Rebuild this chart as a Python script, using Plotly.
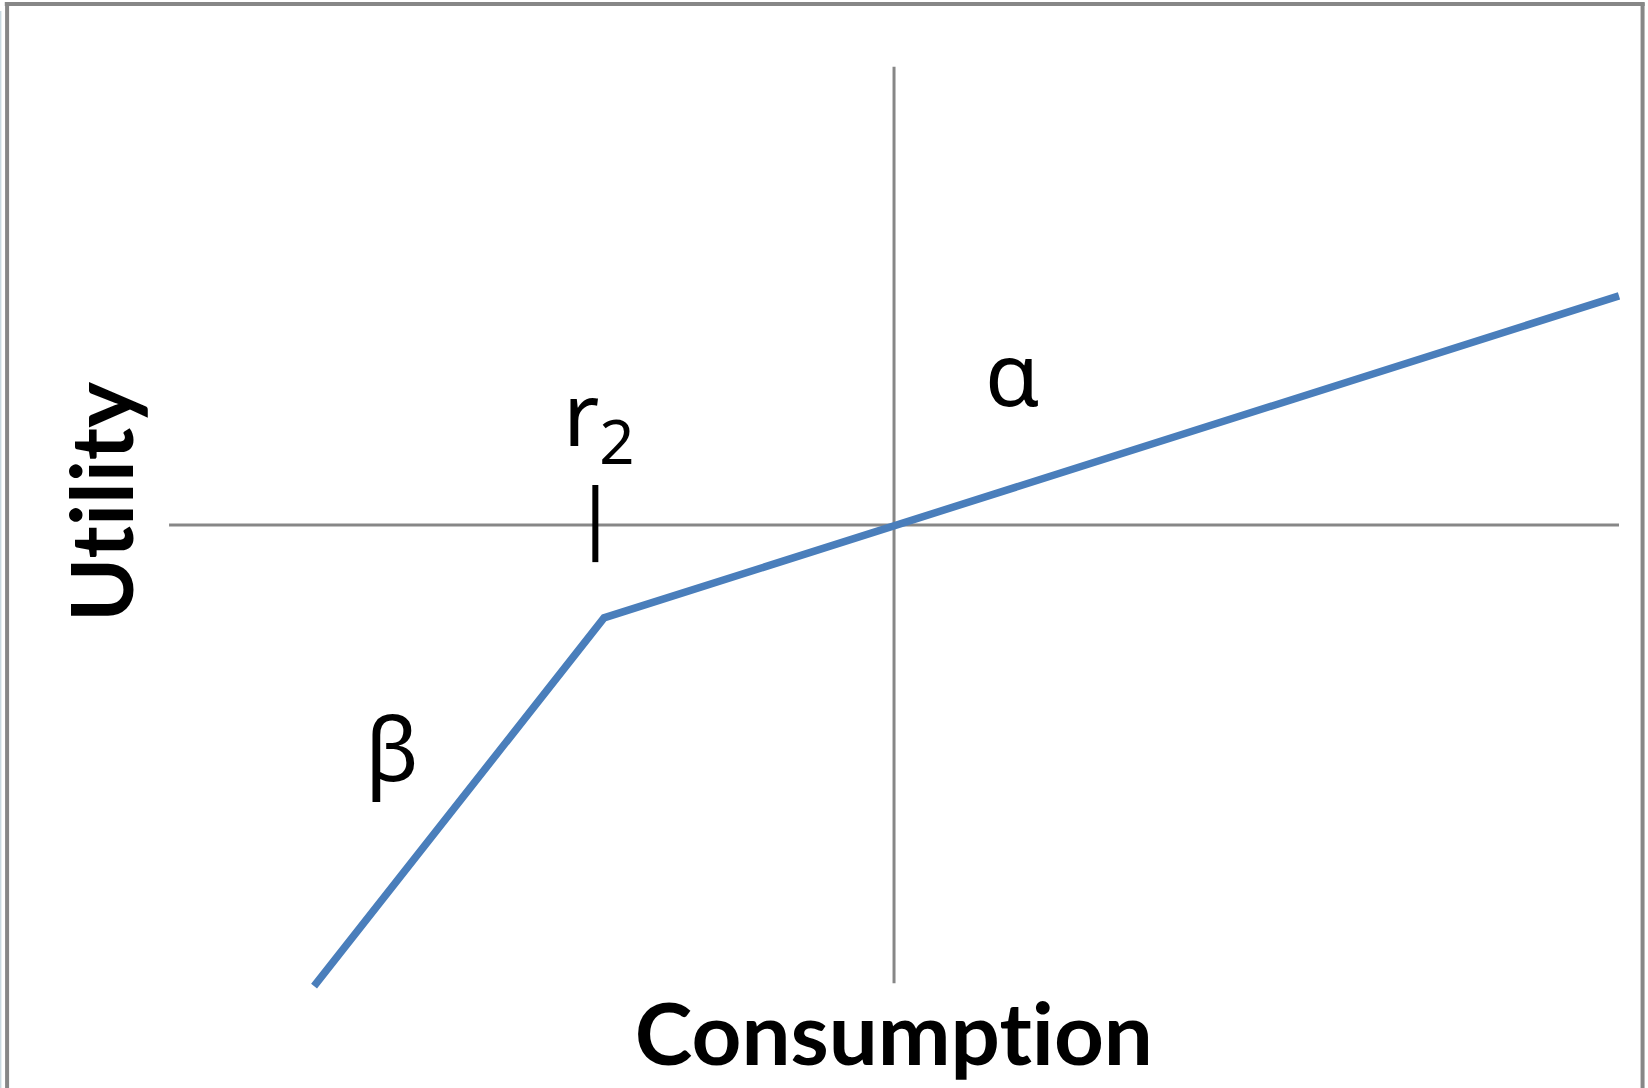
import plotly.graph_objects as go

# value function: consumption vs utility (kink at reference point r2)
consumption = [-2.0, -1.0, 2.5]
utility = [-1.59, -0.32, 0.79]

# the two axes drawn through the origin
h_axis_x = [-2.5, 2.5]
h_axis_y = [0, 0]
v_axis_x = [0, 0]
v_axis_y = [-1.58, 1.58]

# small tick marking r2
r2_tick_x = [-1.03, -1.03]
r2_tick_y = [-0.128, 0.138]

LINE_BLUE = "#4a7ebb"
AXIS_GRAY = "#878787"

fig = go.Figure()

fig.add_trace(go.Scatter(x=h_axis_x, y=h_axis_y, mode="lines",
                         line=dict(color=AXIS_GRAY, width=3), hoverinfo="skip"))
fig.add_trace(go.Scatter(x=v_axis_x, y=v_axis_y, mode="lines",
                         line=dict(color=AXIS_GRAY, width=3), hoverinfo="skip"))
fig.add_trace(go.Scatter(x=r2_tick_x, y=r2_tick_y, mode="lines",
                         line=dict(color="black", width=6), hoverinfo="skip"))
fig.add_trace(go.Scatter(x=consumption, y=utility, mode="lines",
                         line=dict(color=LINE_BLUE, width=7.5)))

label_font = dict(family="Noto Sans", size=88, color="black")
title_font = dict(family="Lato", size=87, color="black", weight="bold")

annotations = [
    dict(x=0.407, y=0.529, text="α", font=label_font),
    dict(x=-1.731, y=-0.765, text="β", font=label_font),
    dict(x=-1.019, y=0.372, text="r<sub>2</sub>", font=label_font),
    dict(x=0, y=-1.745, text="Consumption", font=title_font),
    dict(x=-2.738, y=0.08, text="Utility", font=title_font, textangle=-90),
]
for a in annotations:
    fig.add_annotation(showarrow=False, xanchor="center", yanchor="middle", **a)

# chart frame (open at the bottom)
frame = [
    dict(x0=0.0043, x1=0.0043, y0=0, y1=0.997),
    dict(x0=0.0029, x1=0.998, y0=0.9963, y1=0.9963),
    dict(x0=0.9967, x1=0.9967, y0=0, y1=0.997),
]
for f in frame:
    fig.add_shape(type="line", xref="paper", yref="paper",
                  line=dict(color="#878787", width=4), **f)
fig.add_shape(type="line", xref="paper", yref="paper", x0=0.0004, x1=0.0004,
              y0=0, y1=0.99, line=dict(color="#c9d9e0", width=1.5))

fig.update_layout(
    width=1648, height=1088,
    margin=dict(l=0, r=0, t=0, b=0),
    plot_bgcolor="white", paper_bgcolor="white",
    showlegend=False,
    xaxis=dict(range=[-3.083, 2.6], visible=False, fixedrange=True),
    yaxis=dict(range=[-1.941, 1.810], visible=False, fixedrange=True),
)

# no page margin, and no "ti" ligature in the bold labels
page_css = ("document.head.insertAdjacentHTML('beforeend', '<style>"
            "body{margin:0;overflow:hidden}"
            "text{font-variant-ligatures:none !important;"
            "font-feature-settings:\"liga\" 0 !important}</style>');")

fig.write_html("out.html", post_script=page_css,
               config={"displayModeBar": False})
